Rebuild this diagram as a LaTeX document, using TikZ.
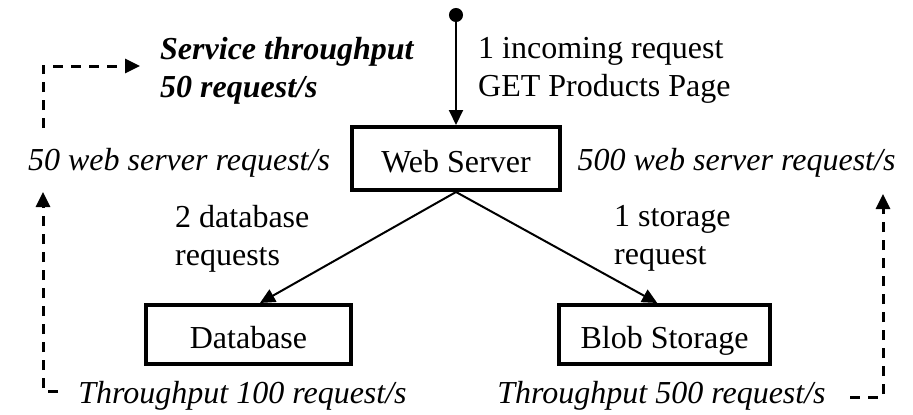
\documentclass[tikz,border=0pt]{standalone}
\usepackage{fontspec}
\setmainfont{Liberation Serif}
\usetikzlibrary{arrows.meta}
\tikzset{
  box/.style={draw, line width=4pt, minimum width=205pt, minimum height=59pt, inner sep=0pt,
    text height=27pt, text depth=0pt},
  lbl/.style={inner sep=0pt, font=\itshape},
  note/.style={inner sep=0pt, align=left},
  req/.style={line width=2pt, -{Triangle[length=15pt,width=14pt]}},
  flow/.style={line width=3pt, dash pattern=on 10pt off 8pt, -{Triangle[length=15pt,width=14pt]}},
}
\begin{document}
\fontsize{32}{38}\selectfont
\begin{tikzpicture}[x=1pt,y=-1pt]
  \useasboundingbox (0,0) rectangle (913,415);
  \node[box, minimum width=208pt, minimum height=63pt] (ws) at (456,158.5) {Web Server};
  \node[box] (db) at (248.5,334.5) {Database};
  \node[box, minimum width=211pt] (bs) at (664.5,334.5) {Blob Storage};

  \coordinate (in) at (456,8);
  \draw[req, {Circle[length=14pt]}-{Triangle[length=15pt,width=14pt]}] (in) -- (ws.north);
  \draw[req] (ws.south) -- (db.70);
  \draw[req] (ws.south) -- (bs.103);

  \node[note, anchor=base west] (inc) at (478,96) {1 incoming request\\GET Products Page};
  \node[note, anchor=base west, font=\bfseries\itshape] (svc) at (160,97) {Service throughput\\50 request/s};
  \node[lbl, anchor=base] (wsl) at (179,170) {50 web server request/s};
  \node[lbl, anchor=base] (wsr) at (736.5,170) {500 web server request/s};
  \node[note, anchor=base west] (dbr) at (175,265) {2 database\\requests};
  \node[note, anchor=base west] (bsr) at (614,264) {1 storage\\request};
  \node[lbl, anchor=base] (dbt) at (242.5,403) {Throughput 100 request/s};
  \node[lbl, anchor=base] (bst) at (661.5,403) {Throughput 500 request/s};

  % feedback of the measured throughput
  \coordinate (l0) at (58,391);
  \coordinate (l1) at (43,192);
  \draw[flow] (l0) -| (l1);
  \coordinate (t0) at (43,128);
  \coordinate (t1) at (140,66);
  \draw[flow] (t0) |- (t1);
  \coordinate (r0) at (850,397);
  \coordinate (r1) at (883,194);
  \draw[flow] (r0) -| (r1);
\end{tikzpicture}
\end{document}
